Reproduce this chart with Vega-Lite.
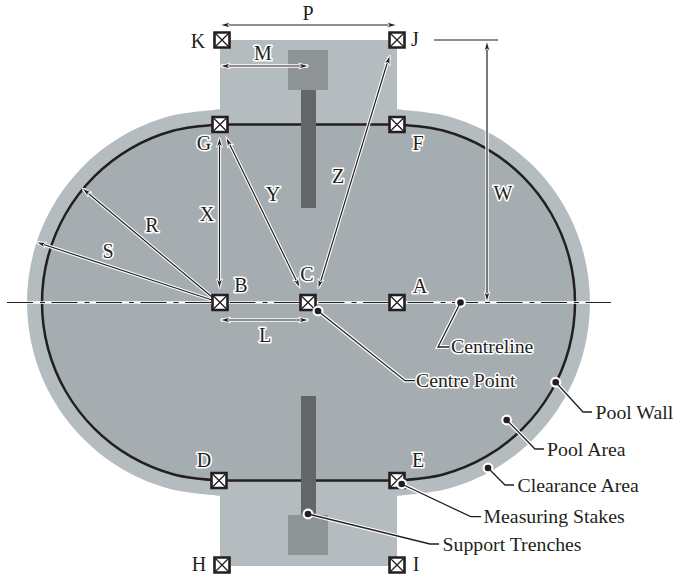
{
"$schema":"https://vega.github.io/schema/vega-lite/v6.json",
"autosize":{"type":"fit","contains":"padding"},"width":676,"height":579,"padding":0,"background":"white",
"config":{"view":{"stroke":null},"text":{"font":"Liberation Serif"}},
"datasets":{
"clearanceRects":[{"x":220,"x2":397,"y":40,"y2":566},{"x":215,"x2":402,"y":109.5,"y2":495.5}],
"poolRects":[{"x":215,"x2":402,"y":124.5,"y2":480.5}],
"outer":[
{"p":"L","i":0,"x":220,"y":109.5},{"p":"L","i":1,"x":170.05,"y":116.08},{"p":"L","i":2,"x":123.5,"y":135.36},{"p":"L","i":3,"x":83.53,"y":166.03},{"p":"L","i":4,"x":52.86,"y":206},{"p":"L","i":5,"x":33.58,"y":252.55},{"p":"L","i":6,"x":27,"y":302.5},{"p":"L","i":7,"x":33.58,"y":352.45},{"p":"L","i":8,"x":52.86,"y":399},{"p":"L","i":9,"x":83.53,"y":438.97},{"p":"L","i":10,"x":123.5,"y":469.64},{"p":"L","i":11,"x":170.05,"y":488.92},{"p":"L","i":12,"x":220,"y":495.5},
{"p":"R","i":0,"x":397,"y":109.5},{"p":"R","i":1,"x":446.95,"y":116.08},{"p":"R","i":2,"x":493.5,"y":135.36},{"p":"R","i":3,"x":533.47,"y":166.03},{"p":"R","i":4,"x":564.14,"y":206},{"p":"R","i":5,"x":583.42,"y":252.55},{"p":"R","i":6,"x":590,"y":302.5},{"p":"R","i":7,"x":583.42,"y":352.45},{"p":"R","i":8,"x":564.14,"y":399},{"p":"R","i":9,"x":533.47,"y":438.97},{"p":"R","i":10,"x":493.5,"y":469.64},{"p":"R","i":11,"x":446.95,"y":488.92},{"p":"R","i":12,"x":397,"y":495.5}],
"wall":[
{"p":"L","i":0,"x":220,"y":124.5},{"p":"L","i":1,"x":173.93,"y":130.56},{"p":"L","i":2,"x":131,"y":148.35},{"p":"L","i":3,"x":94.13,"y":176.63},{"p":"L","i":4,"x":65.85,"y":213.5},{"p":"L","i":5,"x":48.06,"y":256.43},{"p":"L","i":6,"x":42,"y":302.5},{"p":"L","i":7,"x":48.06,"y":348.57},{"p":"L","i":8,"x":65.85,"y":391.5},{"p":"L","i":9,"x":94.13,"y":428.37},{"p":"L","i":10,"x":131,"y":456.65},{"p":"L","i":11,"x":173.93,"y":474.44},{"p":"L","i":12,"x":220,"y":480.5},
{"p":"R","i":0,"x":397,"y":124.5},{"p":"R","i":1,"x":443.07,"y":130.56},{"p":"R","i":2,"x":486,"y":148.35},{"p":"R","i":3,"x":522.87,"y":176.63},{"p":"R","i":4,"x":551.15,"y":213.5},{"p":"R","i":5,"x":568.94,"y":256.43},{"p":"R","i":6,"x":575,"y":302.5},{"p":"R","i":7,"x":568.94,"y":348.57},{"p":"R","i":8,"x":551.15,"y":391.5},{"p":"R","i":9,"x":522.87,"y":428.37},{"p":"R","i":10,"x":486,"y":456.65},{"p":"R","i":11,"x":443.07,"y":474.44},{"p":"R","i":12,"x":397,"y":480.5}],
"wallStraight":[{"x":220,"x2":397,"y":124.5,"y2":124.5},{"x":220,"x2":397,"y":480.5,"y2":480.5}],
"bases":[{"x":288,"x2":328,"y":50,"y2":90},{"x":288,"x2":328,"y":515,"y2":555}],
"trenches":[{"x":301,"x2":316,"y":90,"y2":208},{"x":301,"x2":316,"y":396,"y2":515}],
"centreline":[{"x":7,"x2":611,"y":302.5,"y2":302.5}],
"arrows":[
{"x":221,"y":25,"x2":396,"y2":25},{"x":221,"y":66,"x2":308,"y2":66},{"x":221,"y":320,"x2":308,"y2":320},
{"x":219.5,"y":139,"x2":219.5,"y2":287},{"x":227,"y":139,"x2":299,"y2":286},{"x":319,"y":287,"x2":389,"y2":57},
{"x":212,"y":297,"x2":83,"y2":189},{"x":212,"y":300,"x2":37,"y2":242.3},{"x":487,"y":42,"x2":487,"y2":301}],
"tick":[{"x":434,"x2":498,"y":40,"y2":40}],
"heads":[
{"x":220,"y":25,"a":270},{"x":397,"y":25,"a":90},{"x":220,"y":66,"a":270},{"x":309,"y":66,"a":90},{"x":220,"y":320,"a":270},{"x":309,"y":320,"a":90},
{"x":219.5,"y":137,"a":0},{"x":219.5,"y":289,"a":180},{"x":226,"y":137,"a":333.9},{"x":300,"y":288,"a":153.9},{"x":390,"y":55,"a":17.1},{"x":318,"y":289,"a":197.1},
{"x":82,"y":188,"a":310},{"x":36,"y":242,"a":288.2},{"x":487,"y":41,"a":0},{"x":487,"y":302,"a":180}],
"stakes":[
{"n":"A","x":397,"y":302.5},{"n":"B","x":220,"y":302.5},{"n":"C","x":308,"y":302.5},{"n":"D","x":219,"y":480.5},{"n":"E","x":397,"y":480.5},{"n":"F","x":397,"y":124.5},{"n":"G","x":220,"y":124.5},{"n":"H","x":222,"y":565},{"n":"I","x":397,"y":565},{"n":"J","x":397,"y":40},{"n":"K","x":222,"y":40}],
"leaders":[
{"n":"Centreline","i":0,"x":460.5,"y":302.5},{"n":"Centreline","i":1,"x":438,"y":347},{"n":"Centreline","i":2,"x":449,"y":347},
{"n":"Centre Point","i":0,"x":318,"y":311},{"n":"Centre Point","i":1,"x":405,"y":380.7},{"n":"Centre Point","i":2,"x":415,"y":380.7},
{"n":"Pool Wall","i":0,"x":555.7,"y":382.3},{"n":"Pool Wall","i":1,"x":583,"y":412},{"n":"Pool Wall","i":2,"x":592,"y":412},
{"n":"Pool Area","i":0,"x":506.7,"y":420},{"n":"Pool Area","i":1,"x":535,"y":449},{"n":"Pool Area","i":2,"x":544,"y":449},
{"n":"Clearance Area","i":0,"x":488,"y":468},{"n":"Clearance Area","i":1,"x":505,"y":485},{"n":"Clearance Area","i":2,"x":514,"y":485},
{"n":"Measuring Stakes","i":0,"x":401.7,"y":484},{"n":"Measuring Stakes","i":1,"x":470.7,"y":516.7},{"n":"Measuring Stakes","i":2,"x":481,"y":516.7},
{"n":"Support Trenches","i":0,"x":308,"y":514},{"n":"Support Trenches","i":1,"x":430,"y":544},{"n":"Support Trenches","i":2,"x":439,"y":544}],
"dots":[{"x":460.5,"y":302.5},{"x":318,"y":311},{"x":555.7,"y":382.3},{"x":506.7,"y":420},{"x":488,"y":468},{"x":401.7,"y":484},{"x":308,"y":514}],
"leaderText":[
{"t":"Centreline","x":451,"y":347},{"t":"Centre Point","x":416,"y":381},{"t":"Pool Wall","x":595.5,"y":413},{"t":"Pool Area","x":547,"y":450},{"t":"Clearance Area","x":517.5,"y":485.5},{"t":"Measuring Stakes","x":483.5,"y":517},{"t":"Support Trenches","x":442.5,"y":545}],
"letters":[
{"t":"A","x":420,"y":287},{"t":"B","x":241,"y":286},{"t":"C","x":307,"y":275},{"t":"D","x":204,"y":461},{"t":"E","x":418,"y":461},{"t":"F","x":418,"y":144},{"t":"G","x":204,"y":144},{"t":"H","x":199,"y":565},{"t":"I","x":416,"y":565},{"t":"J","x":415,"y":40},{"t":"K","x":198,"y":42},
{"t":"L","x":265,"y":336},{"t":"M","x":263,"y":54},{"t":"P","x":308,"y":14},{"t":"R","x":152,"y":226},{"t":"S","x":108,"y":252},{"t":"W","x":503,"y":194},{"t":"X","x":207,"y":215},{"t":"Y","x":273,"y":195},{"t":"Z","x":338,"y":177}]
},
"encoding":{
"x":{"field":"x","type":"quantitative","scale":{"domain":[0,676],"nice":false,"zero":false},"axis":null},
"y":{"field":"y","type":"quantitative","scale":{"domain":[579,0],"nice":false,"zero":false},"axis":null}
},
"layer":[
{"data":{"name":"clearanceRects"},"mark":{"type":"rect","fill":"#b4bcbf"},"encoding":{"x2":{"field":"x2"},"y2":{"field":"y2"}}},
{"data":{"name":"outer"},"mark":{"type":"line","interpolate":"cardinal","tension":0,"fill":"#b4bcbf","stroke":null},"encoding":{"detail":{"field":"p"},"order":{"field":"i"}}},
{"data":{"name":"poolRects"},"mark":{"type":"rect","fill":"#a6adb0"},"encoding":{"x2":{"field":"x2"},"y2":{"field":"y2"}}},
{"data":{"name":"wall"},"mark":{"type":"line","interpolate":"cardinal","tension":0,"fill":"#a6adb0","stroke":"#231f20","strokeWidth":2.5},"encoding":{"detail":{"field":"p"},"order":{"field":"i"}}},
{"data":{"name":"wallStraight"},"mark":{"type":"rule","stroke":"#231f20","strokeWidth":2.5},"encoding":{"x2":{"field":"x2"},"y2":{"field":"y2"}}},
{"data":{"name":"bases"},"mark":{"type":"rect","fill":"#8e9396"},"encoding":{"x2":{"field":"x2"},"y2":{"field":"y2"}}},
{"data":{"name":"trenches"},"mark":{"type":"rect","fill":"#636669"},"encoding":{"x2":{"field":"x2"},"y2":{"field":"y2"}}},
{"data":{"name":"centreline"},"mark":{"type":"rule","stroke":"white","strokeWidth":2.4},"encoding":{"x2":{"field":"x2"},"y2":{"field":"y2"}}},
{"data":{"name":"centreline"},"mark":{"type":"rule","stroke":"#231f20","strokeWidth":1.2,"strokeDash":[26,7,5,6.5]},"encoding":{"x2":{"field":"x2"},"y2":{"field":"y2"}}},
{"data":{"name":"arrows"},"mark":{"type":"rule","stroke":"white","strokeWidth":3.4},"encoding":{"x2":{"field":"x2"},"y2":{"field":"y2"}}},
{"data":{"name":"arrows"},"mark":{"type":"rule","stroke":"#231f20","strokeWidth":1.2},"encoding":{"x2":{"field":"x2"},"y2":{"field":"y2"}}},
{"data":{"name":"tick"},"mark":{"type":"rule","stroke":"#231f20","strokeWidth":1.2},"encoding":{"x2":{"field":"x2"},"y2":{"field":"y2"}}},
{"data":{"name":"heads"},"mark":{"type":"point","shape":"M0,0L0.5,1.7L0,1.3L-0.5,1.7Z","filled":true,"fill":"#231f20","stroke":"white","strokeWidth":0.9,"size":144,"opacity":1},"encoding":{"angle":{"field":"a","type":"quantitative","scale":null}}},
{"data":{"name":"stakes"},"mark":{"type":"point","shape":"square","filled":true,"fill":"white","stroke":"#231f20","strokeWidth":2.6,"size":225,"opacity":1}},
{"data":{"name":"stakes"},"mark":{"type":"point","shape":"M-1,-1L1,1M-1,1L1,-1","filled":false,"stroke":"#231f20","strokeWidth":1.3,"size":196,"opacity":1}},
{"data":{"name":"leaders"},"mark":{"type":"line","stroke":"white","strokeWidth":3.8},"encoding":{"detail":{"field":"n"},"order":{"field":"i"}}},
{"data":{"name":"dots"},"mark":{"type":"point","shape":"circle","filled":true,"fill":"white","size":120,"opacity":1}},
{"data":{"name":"leaders"},"mark":{"type":"line","stroke":"#231f20","strokeWidth":1.3},"encoding":{"detail":{"field":"n"},"order":{"field":"i"}}},
{"data":{"name":"dots"},"mark":{"type":"point","shape":"circle","filled":true,"fill":"#231f20","size":44,"opacity":1}},
{"data":{"name":"leaderText"},"mark":{"type":"text","align":"left","baseline":"middle","fontSize":19.8,"font":"Liberation Serif","stroke":"white","strokeWidth":3,"strokeJoin":"round"},"encoding":{"text":{"field":"t"}}},
{"data":{"name":"leaderText"},"mark":{"type":"text","align":"left","baseline":"middle","fontSize":19.8,"font":"Liberation Serif","fill":"#231f20"},"encoding":{"text":{"field":"t"}}},
{"data":{"name":"letters"},"mark":{"type":"text","align":"center","baseline":"middle","fontSize":20,"font":"Liberation Serif","stroke":"white","strokeWidth":3.2,"strokeJoin":"round"},"encoding":{"text":{"field":"t"}}},
{"data":{"name":"letters"},"mark":{"type":"text","align":"center","baseline":"middle","fontSize":20,"font":"Liberation Serif","fill":"#231f20"},"encoding":{"text":{"field":"t"}}}
]
}
